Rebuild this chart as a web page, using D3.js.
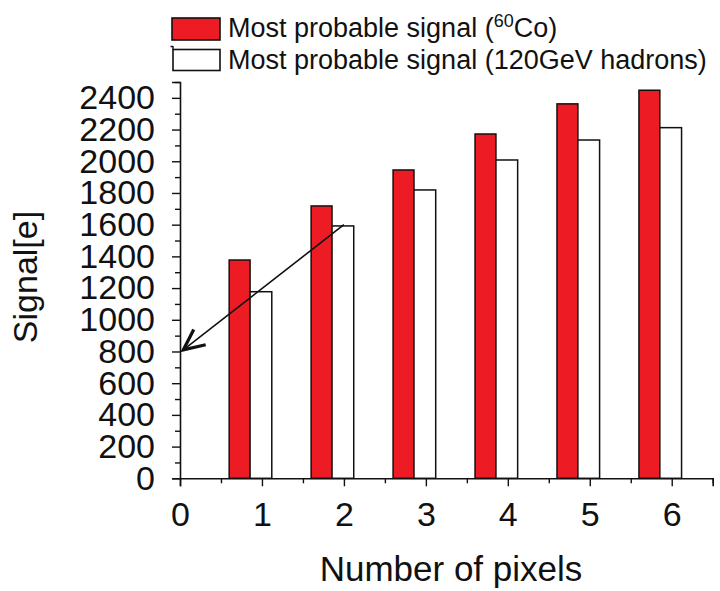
<!DOCTYPE html>
<html>
<head>
<meta charset="utf-8">
<script src="https://cdn.jsdelivr.net/npm/d3@7"></script>
<style>
  html, body { margin: 0; padding: 0; background: #fff; }
  svg { display: block; }
  text { font-family: "Liberation Sans", Arial, sans-serif; fill: #111; }
</style>
</head>
<body>
<svg id="chart" width="720" height="591"></svg>
<script>
// ---- data ----
const pixels = [1, 2, 3, 4, 5, 6];
const coSignal = [1377, 1718, 1945, 2172, 2362, 2448];
const hadronSignal = [1177, 1592, 1819, 2008, 2134, 2212];
const xTickValues = [0, 1, 2, 3, 4, 5, 6];
const yTickValues = [0, 200, 400, 600, 800, 1000, 1200, 1400, 1600, 1800, 2000, 2200, 2400];
const seriesNames = ["Most probable signal (", "Most probable signal (120GeV hadrons)"];
const xTitle = "Number of pixels";
const yTitle = "Signal[e]";
const arrowFrom = [2.0, 1600];
const arrowTo = [0.04, 810];

// ---- layout ----
const svg = d3.select("#chart");
const x = d3.scaleLinear().domain([0, 6.5]).range([180, 712.7]);
const y = d3.scaleLinear().domain([0, 2500]).range([478.3, 82]);
const red = "#ed1c24";
const ink = "#111";

// bars
const redOff = [-0.40, -0.145];
const whiteOff = [-0.145, 0.12];
const g = svg.append("g");
g.selectAll("rect.co").data(pixels).enter().append("rect")
  .attr("class", "co")
  .attr("x", (d) => x(d + redOff[0]))
  .attr("width", (d) => x(d + redOff[1]) - x(d + redOff[0]))
  .attr("y", (d, i) => y(coSignal[i]))
  .attr("height", (d, i) => y(0) - y(coSignal[i]))
  .attr("fill", red).attr("stroke", ink).attr("stroke-width", 1.5);
g.selectAll("rect.had").data(pixels).enter().append("rect")
  .attr("class", "had")
  .attr("x", (d) => x(d + whiteOff[0]))
  .attr("width", (d) => x(d + whiteOff[1]) - x(d + whiteOff[0]))
  .attr("y", (d, i) => y(hadronSignal[i]))
  .attr("height", (d, i) => y(0) - y(hadronSignal[i]))
  .attr("fill", "#fff").attr("stroke", ink).attr("stroke-width", 1.5);

// y axis
const yMinor = d3.range(0, 2501, 100);
const yAxis = d3.axisLeft(y).tickValues(yMinor).tickSize(8).tickPadding(17)
  .tickFormat((d) => yTickValues.includes(d) ? d : "");
const yg = svg.append("g").attr("transform", `translate(${x(0)},0)`).call(yAxis);
yg.select(".domain").attr("stroke", ink).attr("stroke-width", 1.6);
yg.selectAll(".tick line").attr("stroke", ink).attr("stroke-width", 1.4)
  .attr("x2", (d) => yTickValues.includes(d) ? -8 : -5);
yg.selectAll(".tick text").attr("font-size", 34).attr("fill", ink)
  .style("font-family", '"Liberation Sans", Arial, sans-serif');

// x axis
const xMinor = d3.range(0, 6.51, 0.5);
const xAxis = d3.axisBottom(x).tickValues(xMinor).tickSize(8).tickPadding(16)
  .tickFormat((d) => xTickValues.includes(d) ? d : "");
const xg = svg.append("g").attr("transform", `translate(0,${y(0)})`).call(xAxis);
xg.select(".domain").attr("stroke", ink).attr("stroke-width", 1.6);
xg.selectAll(".tick line").attr("stroke", ink).attr("stroke-width", 1.4)
  .attr("y2", (d) => xTickValues.includes(d) ? 8 : 5);
xg.selectAll(".tick text").attr("font-size", 34).attr("fill", ink)
  .style("font-family", '"Liberation Sans", Arial, sans-serif');

// titles
svg.append("text").attr("x", 451).attr("y", 581).attr("text-anchor", "middle")
  .attr("font-size", 35).text(xTitle);
svg.append("text").attr("transform", "translate(37,277) rotate(-90)")
  .attr("text-anchor", "middle").attr("font-size", 34).text(yTitle);

// arrow annotation
const p0 = [x(arrowFrom[0]), y(arrowFrom[1])];
const p1 = [x(arrowTo[0]), y(arrowTo[1])];
svg.append("line").attr("x1", p0[0]).attr("y1", p0[1]).attr("x2", p1[0]).attr("y2", p1[1])
  .attr("stroke", ink).attr("stroke-width", 1.6);
const ang = Math.atan2(p0[1] - p1[1], p0[0] - p1[0]);
const headLen = 23, spread = 25 * Math.PI / 180;
const h1 = [p1[0] + headLen * Math.cos(ang - spread), p1[1] + headLen * Math.sin(ang - spread)];
const h2 = [p1[0] + headLen * Math.cos(ang + spread), p1[1] + headLen * Math.sin(ang + spread)];
svg.append("path").attr("d", `M${h1[0]},${h1[1]}L${p1[0]},${p1[1]}L${h2[0]},${h2[1]}`)
  .attr("fill", "none").attr("stroke", ink).attr("stroke-width", 3.2)
  .attr("stroke-linejoin", "miter");

// legend
const lg = svg.append("g");
lg.append("rect").attr("x", 172).attr("y", 18).attr("width", 48).attr("height", 22)
  .attr("fill", red).attr("stroke", ink).attr("stroke-width", 1.6);
lg.append("rect").attr("x", 173).attr("y", 49.5).attr("width", 47).attr("height", 21)
  .attr("fill", "#fff").attr("stroke", ink).attr("stroke-width", 1.6);
lg.append("path").attr("d", "M173,49.5V46M170.5,46.5H173").attr("stroke", ink).attr("stroke-width", 1.4).attr("fill", "none");
const t1 = lg.append("text").attr("x", 228).attr("y", 37).attr("font-size", 27);
t1.append("tspan").text(seriesNames[0]);
t1.append("tspan").attr("font-size", 18).attr("dy", -10).text("60");
t1.append("tspan").attr("dy", 10).text("Co)");
lg.append("text").attr("x", 228).attr("y", 68.5).attr("font-size", 27).text(seriesNames[1]);
</script>
</body>
</html>
